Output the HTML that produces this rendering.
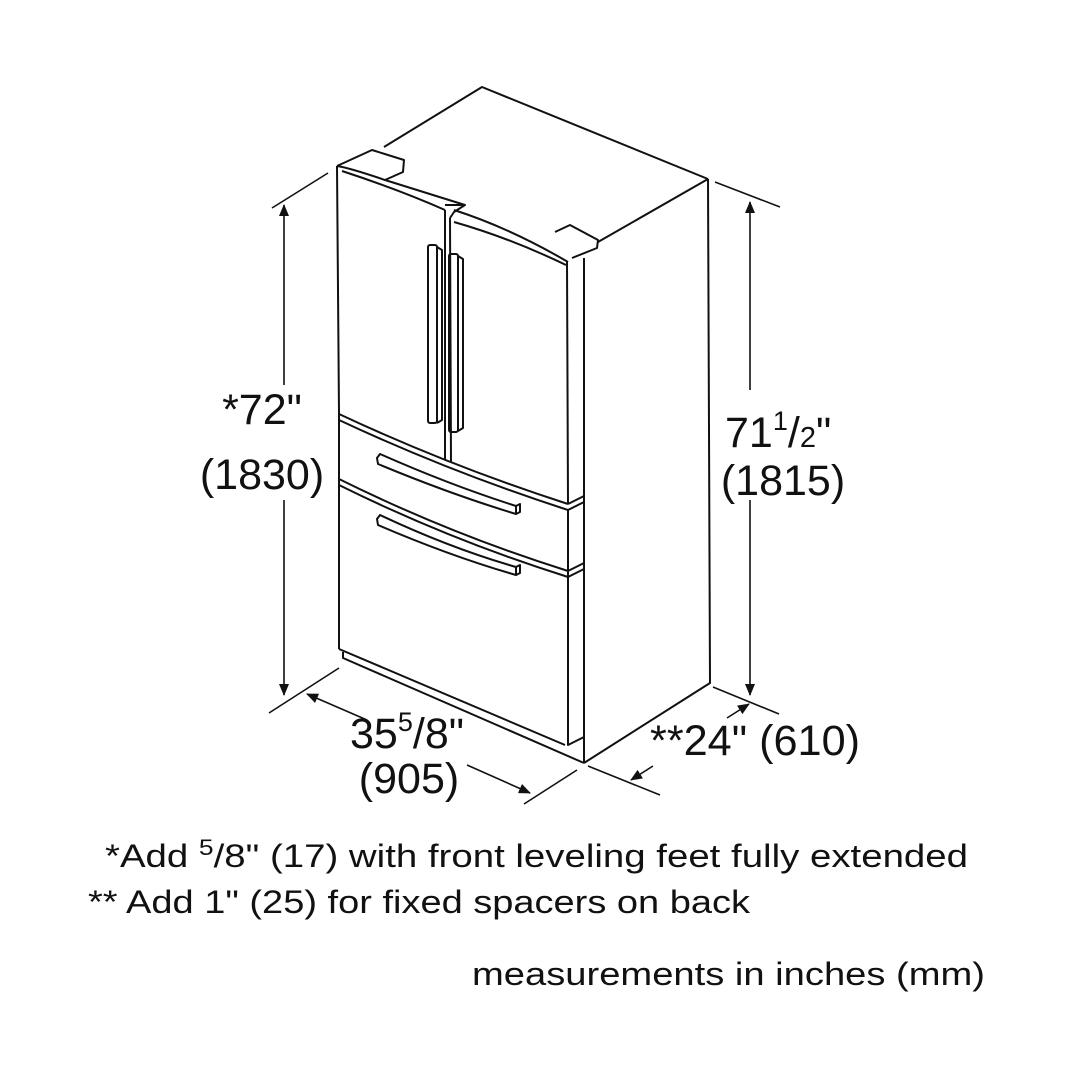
<!DOCTYPE html>
<html><head><meta charset="utf-8"><style>
html,body{margin:0;padding:0;background:#fff;}
svg{display:block;}
text{font-family:"Liberation Sans",Arial,sans-serif;fill:#111;}
</style></head><body>
<svg width="1080" height="1080" viewBox="0 0 1080 1080" xmlns="http://www.w3.org/2000/svg">
<defs>
<marker id="ar" markerWidth="12" markerHeight="10" refX="11" refY="5" orient="auto" markerUnits="userSpaceOnUse">
<path d="M0,0 L12,5 L0,10 Z" fill="#111"/>
</marker>
</defs>
<g fill="none" stroke="#111" stroke-width="2" stroke-linejoin="round">
<path d="M384,147 L482,87 L708,179"/>
<path d="M598,242 L708,179"/>
<path d="M708,179 L710,683 L584,763"/>
<path d="M584,258 L584,763"/>
<path d="M337,166 L372,150 L404,160 L403,172 L385,180"/>
<path d="M337,166 Q350,168 385,180 L465,205"/>
<path d="M555,232 L570,225 L598,240 L597,248 L572,258"/>
<path d="M454,210 Q510,228 568,262"/>
<path d="M445,205 L465,205 L454,212 L450,218"/>
<path d="M337,166 L339,414"/>
<path d="M445,210 L445,460"/>
<path d="M342,171 Q400,190 445,210"/>
<path d="M450,218 L451,462"/>
<path d="M567,262 L568,504"/>
<path d="M454,222 Q510,238 566,265"/>
<path d="M339,414 Q450,466 568,504"/>
<path d="M339,420 Q450,472 568,510"/>
<path d="M568,504 L584,496"/>
<path d="M568,510 L584,502"/>
<path d="M339,479 Q450,534 568,571"/>
<path d="M339,485 Q450,540 568,577"/>
<path d="M568,571 L584,563"/>
<path d="M568,577 L584,569"/>
<path d="M339,414 L339,649"/>
<path d="M568,510 L568,745 L584,737"/>
<path d="M339,649 L565,745"/>
<path d="M343,652 L343,658 L584,763"/>
<rect x="428" y="245" width="9" height="178" rx="2"/>
<path d="M437,247 L442,250 L442,420 L437,423"/>
<rect x="449" y="254" width="9" height="178" rx="2"/>
<path d="M458,256 L463,259 L463,428 L458,431"/>
<path d="M377,458 L380,454 Q450,485 516,506 L516,514 Q450,494 378,464 Z"/>
<path d="M516,506 L520,504 L520,512 L516,514"/>
<path d="M377,519 L380,515 Q450,548 516,567 L516,575 Q450,556 378,525 Z"/>
<path d="M516,567 L520,565 L520,573 L516,575"/>
</g>
<g fill="none" stroke="#111" stroke-width="1.6">
<path d="M272,208 L328,173"/>
<path d="M269,713 L339,668"/>
<path d="M284,385 L284,205" marker-end="url(#ar)"/>
<path d="M284,500 L284,695" marker-end="url(#ar)"/>
<path d="M715,182 L780,207"/>
<path d="M713,687 L779,714"/>
<path d="M750,390 L750,202" marker-end="url(#ar)"/>
<path d="M750,500 L750,695" marker-end="url(#ar)"/>
<path d="M367,720 L307,694" marker-end="url(#ar)"/>
<path d="M467,765 L530,793" marker-end="url(#ar)"/>
<path d="M524,804 L577,770"/>
<path d="M588,766 L660,795"/>
<path d="M653,766 L631,780" marker-end="url(#ar)"/>
<path d="M727,718 L749,704" marker-end="url(#ar)"/>
</g>
<text x="262" y="424" font-size="43" text-anchor="middle">*72"</text>
<text x="262" y="489" font-size="43" text-anchor="middle">(1830)</text>
<text x="725" y="447" font-size="43">71<tspan font-size="27" dy="-17">1</tspan><tspan dy="17">/</tspan><tspan font-size="29">2</tspan>"</text>
<text x="783" y="495" font-size="43" text-anchor="middle">(1815)</text>
<text x="350" y="748" font-size="43">35<tspan font-size="27" dy="-17">5</tspan><tspan dy="17">/8"</tspan></text>
<text x="409" y="793" font-size="43" text-anchor="middle">(905)</text>
<text x="650" y="755" font-size="43" textLength="210" lengthAdjust="spacingAndGlyphs">**24" (610)</text>
<text x="105" y="867" font-size="32" textLength="863" lengthAdjust="spacingAndGlyphs">*Add <tspan font-size="22" dy="-12">5</tspan><tspan dy="12">/8" (17) with front leveling feet fully extended</tspan></text>
<text x="88" y="913" font-size="32" textLength="662" lengthAdjust="spacingAndGlyphs">** Add 1" (25) for fixed spacers on back</text>
<text x="472" y="985" font-size="32" textLength="513" lengthAdjust="spacingAndGlyphs">measurements in inches (mm)</text>
</svg>
</body></html>
